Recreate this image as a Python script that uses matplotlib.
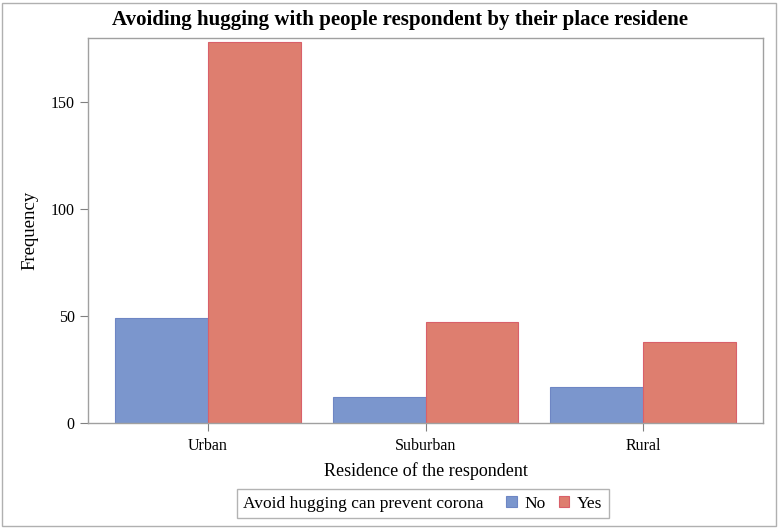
import matplotlib
matplotlib.use('Agg')
import numpy as np
import matplotlib.pyplot as plt
from matplotlib.patches import Rectangle
from matplotlib.offsetbox import HPacker

# data
categories = ['Urban', 'Suburban', 'Rural']
no_counts = [49, 12, 17]
yes_counts = [178, 47, 38]
yticks = [0, 50, 100, 150]

plt.rcParams['font.family'] = ['Liberation Serif', 'DejaVu Serif']

fig = plt.figure(figsize=(7.79, 5.28), dpi=100)
ax = fig.add_axes([88 / 779, 1 - 423 / 528, (763 - 88) / 779, (423 - 38) / 528])

x = np.arange(len(categories))
w = 0.427
ax.bar(x - w / 2, no_counts, width=w, color='#7B96CD', edgecolor='#6E86C4', linewidth=0.8, label='No')
ax.bar(x + w / 2, yes_counts, width=w, color='#DE7E6F', edgecolor='#D9606A', linewidth=0.8, label='Yes')

ax.set_xlim(-0.55, 2.55)
ax.set_ylim(0, 180)
ax.set_xticks(x)
ax.set_xticklabels(categories)
ax.set_yticks(yticks)
for s in ax.spines.values():
    s.set_color('#A0A0A0')
    s.set_linewidth(1)
ax.tick_params(colors='#808080', labelcolor='black', length=6, labelsize=11.5)
ax.tick_params(axis='x', pad=5)

ax.set_xlabel('Residence of the respondent', fontsize=13, labelpad=6)
ax.set_ylabel('Frequency', fontsize=13.5, labelpad=9)
fig.text(400 / 779, 1 - 20 / 528, 'Avoiding hugging with people respondent by their place residene',
         ha='center', va='center', fontsize=15, fontweight='bold')

# legend with its title sitting to the left of the entries
leg = fig.legend(title='Avoid hugging can prevent corona', ncol=2, alignment='center',
                 loc='center', bbox_to_anchor=(423 / 779, 1 - 503.5 / 528),
                 fontsize=12.5, title_fontsize=12.5, frameon=True, fancybox=False,
                 handlelength=0.6, handleheight=0.6, handletextpad=0.45,
                 columnspacing=0.75, labelspacing=1.3, borderpad=0.35)
leg._legend_box.__class__ = HPacker
leg.get_frame().set_edgecolor('#A0A0A0')
leg.get_frame().set_linewidth(1)

# outer frame around the whole graphic
fig.patches.append(Rectangle((2 / 779, 2 / 528), 774 / 779, 523 / 528, transform=fig.transFigure,
                             fill=False, edgecolor='#B0B0B0', linewidth=1))

fig.savefig('out.png', dpi=100)
